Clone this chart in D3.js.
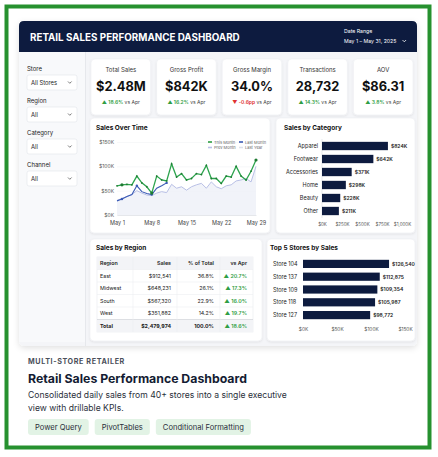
<!DOCTYPE html>
<html>
<head>
<meta charset="utf-8">
<script src="https://cdn.jsdelivr.net/npm/d3@7"></script>
<style>
  html, body { margin: 0; padding: 0; background: #fff; }
  svg { display: block; font-family: Inter, "Open Sans", sans-serif; }
</style>
</head>
<body>
<div id="chart"></div>
<script>
// ---- data ----
var filterLabels = ["Store", "Region", "Category", "Channel"];
var filterValues = ["All Stores", "All", "All", "All"];

var kpiLabels = ["Total Sales", "Gross Profit", "Gross Margin", "Transactions", "AOV"];
var kpiValues = ["$2.48M", "$842K", "34.0%", "28,732", "$86.31"];
var kpiDeltas = ["18.6%", "16.2%", "-0.6pp", "14.3%", "3.8%"];
var kpiUp = [true, true, false, true, true];

var days = d3.range(1, 30);
var thisMonth = [60, 62, 63, 62, 80, 66, 58, 45, 80, 72, 70, 105, 78, 85, 72, 75, 85, 83, 102, 75, 75, 65, 80, 78, 100, 80, 72, 90, 113];
var lastMonth = [29, 33, 38, 42, 60, 48, 44, 42, 55, 60, 66];
var prevMonth = [30, 34, 38, 42, 50, 45, 41, 40, 45, 48, 46, 63, 55, 58, 51, 58, 62, 65, 55, 68, 58, 54, 60, 62, 70, 72, 75, 68, 100];
var lineTicks = [0, 50, 100, 150];
var dayTicks = [1, 8, 15, 22, 29];
var legendNames = ["This Month", "Last Month", "Prev Month", "Last Year"];

var categories = ["Apparel", "Footwear", "Accessories", "Home", "Beauty", "Other"];
var categorySales = [824, 642, 371, 298, 228, 211];
var categoryTicks = [0, 250, 500, 750, 1000];

var regionHead = ["Region", "Sales", "% of Total", "vs Apr"];
var regions = ["East", "Midwest", "South", "West", "Total"];
var regionSales = [912541, 648231, 567320, 351882, 2479974];
var regionShare = [36.8, 26.1, 22.9, 14.2, 100.0];
var regionVsApr = [20.7, 17.3, 16.0, 19.7, 18.6];

var stores = ["Store 104", "Store 137", "Store 109", "Store 118", "Store 127"];
var storeSales = [126540, 112875, 109354, 105987, 98772];
var storeTicks = [0, 50000, 100000, 150000];

var tags = ["Power Query", "PivotTables", "Conditional Formatting"];

// ---- colours ----
var navy = "#0d1b3f", green = "#2f9e44", red = "#e03131", blue = "#3b5bb5", lav = "#b9c0e6";

var W = 438, H = 457;
var svg = d3.select("#chart").append("svg").attr("width", W).attr("height", H);

var defs = svg.append("defs");
var sh = defs.append("filter").attr("id", "sh").attr("x", "-10%").attr("y", "-10%").attr("width", "120%").attr("height", "130%");
sh.append("feDropShadow").attr("dx", 0).attr("dy", 1).attr("stdDeviation", 1.2).attr("flood-color", "#000").attr("flood-opacity", 0.08);
var sh2 = defs.append("filter").attr("id", "sh2").attr("x", "-5%").attr("y", "-5%").attr("width", "110%").attr("height", "115%");
sh2.append("feDropShadow").attr("dx", 0).attr("dy", 2).attr("stdDeviation", 3).attr("flood-color", "#000").attr("flood-opacity", 0.12);

// outer green frame
svg.append("rect").attr("x", 6.5).attr("y", 6.5).attr("width", 423).attr("height", 441)
  .attr("fill", "#fff").attr("stroke", "#26912f").attr("stroke-width", 4);

// dashboard panel
svg.append("rect").attr("x", 19).attr("y", 21).attr("width", 398).attr("height", 325).attr("rx", 5)
  .attr("fill", "#f4f5f8").attr("filter", "url(#sh2)");
svg.append("rect").attr("x", 19).attr("y", 52).attr("width", 66).attr("height", 290)
  .attr("fill", "#f8f9fb");
svg.append("line").attr("x1", 85.5).attr("x2", 85.5).attr("y1", 52).attr("y2", 346).attr("stroke", "#e6e8ec");

// header
svg.append("path").attr("d", "M19,52 V26 Q19,21 24,21 H412 Q417,21 417,26 V52 Z").attr("fill", navy);
svg.append("text").attr("x", 30).attr("y", 40.5).attr("fill", "#fff").attr("font-size", 9.8).attr("font-weight", 700)
  .text("RETAIL SALES PERFORMANCE DASHBOARD");
svg.append("text").attr("x", 344).attr("y", 33).attr("fill", "#fff").attr("font-size", 5.2).text("Date Range");
svg.append("text").attr("x", 344).attr("y", 43).attr("fill", "#fff").attr("font-size", 5.2).text("May 1 \u2013 May 31, 2025");
svg.append("path").attr("d", "M402.5,40 l1.8,1.8 l1.8,-1.8").attr("fill", "none").attr("stroke", "#fff").attr("stroke-width", 0.8);

// sidebar filters
var filt = svg.selectAll("g.filter").data(filterLabels).enter().append("g")
  .attr("transform", function(d, i) { return "translate(27," + (66 + i * 32) + ")"; });
filt.append("text").attr("y", 5).attr("font-size", 6).attr("fill", "#222").text(function(d) { return d; });
filt.append("rect").attr("y", 9).attr("width", 50).attr("height", 15).attr("rx", 2)
  .attr("fill", "#fff").attr("stroke", "#e1e4ea").attr("stroke-width", 0.6);
filt.append("text").attr("x", 4).attr("y", 19).attr("font-size", 5.8).attr("fill", "#222")
  .text(function(d, i) { return filterValues[i]; });
filt.append("path").attr("d", "M41,15.5 l1.8,1.8 l1.8,-1.8").attr("fill", "none").attr("stroke", "#444").attr("stroke-width", 0.7);

function card(x, y, w, h) {
  svg.append("rect").attr("x", x).attr("y", y).attr("width", w).attr("height", h).attr("rx", 4)
    .attr("fill", "#fff").attr("stroke", "#eceef2").attr("stroke-width", 0.6).attr("filter", "url(#sh)");
}

// KPI cards
var kx = d3.scaleBand().domain(kpiLabels).range([91, 413]).paddingInner(0.09);
kpiLabels.forEach(function(lab, i) {
  var x = kx(lab), w = kx.bandwidth(), cx = x + w / 2;
  card(x, 59, w, 56);
  svg.append("text").attr("x", cx).attr("y", 72).attr("text-anchor", "middle").attr("font-size", 6).attr("fill", "#333").text(lab);
  svg.append("text").attr("x", cx).attr("y", 90.5).attr("text-anchor", "middle").attr("font-size", 12.8).attr("font-weight", 700)
    .attr("fill", "#111").text(kpiValues[i]);
  var t = svg.append("text").attr("x", cx).attr("y", 103.5).attr("text-anchor", "middle").attr("font-size", 5);
  t.append("tspan").attr("fill", kpiUp[i] ? green : red).attr("font-weight", 600)
    .text((kpiUp[i] ? "\u25B2 " : "\u25BC ") + kpiDeltas[i]);
  t.append("tspan").attr("fill", "#444").text(" vs Apr");
});

// ---- Sales Over Time ----
card(90, 118, 180, 115);
svg.append("text").attr("x", 96).attr("y", 130).attr("font-size", 6.5).attr("font-weight", 700).attr("fill", "#111").text("Sales Over Time");

var lx = d3.scaleLinear().domain([1, 29]).range([117, 256]);
var ly = d3.scaleLinear().domain([0, 150]).range([215, 142]);

var yAx = svg.append("g").attr("transform", "translate(117,0)")
  .call(d3.axisLeft(ly).tickValues(lineTicks).tickSize(-139).tickPadding(3).tickFormat(function(d) { return "$" + d + "K"; }));
yAx.select(".domain").remove();
yAx.selectAll("line").attr("stroke", "#eef0f3").attr("stroke-width", 0.5);
yAx.selectAll("text").attr("font-size", 5).attr("fill", "#555").attr("font-family", "Inter, sans-serif");

var xAx = svg.append("g").attr("transform", "translate(0,215)")
  .call(d3.axisBottom(lx).tickValues(dayTicks).tickSize(0).tickPadding(6).tickFormat(function(d) { return "May " + d; }));
xAx.select(".domain").attr("stroke", "#d8dbe0").attr("stroke-width", 0.6);
xAx.selectAll("text").attr("font-size", 5.5).attr("fill", "#444").attr("font-family", "Inter, sans-serif");

var area = d3.area().x(function(d, i) { return lx(days[i]); }).y0(ly(0)).y1(function(d) { return ly(d); });
var line = d3.line().x(function(d, i) { return lx(days[i]); }).y(function(d) { return ly(d); });

svg.append("path").datum(prevMonth).attr("d", area).attr("fill", "#eef0f8").attr("opacity", 0.8);
svg.append("path").datum(prevMonth).attr("d", line).attr("fill", "none").attr("stroke", lav).attr("stroke-width", 1);
svg.append("path").datum(lastMonth).attr("d", line).attr("fill", "none").attr("stroke", blue).attr("stroke-width", 1.1);
svg.selectAll("circle.lm").data(lastMonth).enter().append("circle").attr("class", "lm")
  .attr("cx", function(d, i) { return lx(days[i]); }).attr("cy", function(d) { return ly(d); })
  .attr("r", function(d, i) { return i % 3 === 1 ? 1.2 : 0; }).attr("fill", blue);
svg.append("path").datum(thisMonth).attr("d", line).attr("fill", "none").attr("stroke", "#2da44e").attr("stroke-width", 1.3);
svg.selectAll("circle.tm").data(thisMonth).enter().append("circle").attr("class", "tm")
  .attr("cx", function(d, i) { return lx(days[i]); }).attr("cy", function(d) { return ly(d); })
  .attr("r", function(d, i) { return (i === 1 || i === 7 || i === 28) ? 1.6 : 0.9; }).attr("fill", "#1f7a32");

var legColors = [green, blue, lav, "#dde1ea"];
var leg = svg.selectAll("g.leg").data(legendNames).enter().append("g")
  .attr("transform", function(d, i) { return "translate(" + (208 + (i % 2) * 31) + "," + (142 + Math.floor(i / 2) * 5.5) + ")"; });
leg.append("rect").attr("x", 0).attr("y", -0.8).attr("width", 4).attr("height", 1.6).attr("fill", function(d, i) { return legColors[i]; });
leg.append("text").attr("x", 6).attr("y", 1.5).attr("font-size", 4).attr("fill", "#666").text(function(d) { return d; });

// ---- Sales by Category ----
card(276, 118, 139, 115);
svg.append("text").attr("x", 284).attr("y", 130).attr("font-size", 6.5).attr("font-weight", 700).attr("fill", "#111").text("Sales by Category");

var cx = d3.scaleLinear().domain([0, 1000]).range([322, 402]);
var cy = d3.scaleBand().domain(categories).range([139.5, 217.5]).paddingInner(0.36).paddingOuter(0.18);
var cAx = svg.append("g").attr("transform", "translate(0,218)")
  .call(d3.axisBottom(cx).tickValues(categoryTicks).tickSize(0).tickPadding(5).tickFormat(function(d) { return "$" + d3.format(",")(d) + "K"; }));
cAx.select(".domain").remove();
cAx.selectAll("text").attr("font-size", 4.5).attr("fill", "#555").attr("font-family", "Inter, sans-serif");
svg.append("line").attr("x1", 322).attr("x2", 322).attr("y1", 139).attr("y2", 218).attr("stroke", "#d8dbe0").attr("stroke-width", 0.6);

svg.selectAll("rect.cat").data(categorySales).enter().append("rect")
  .attr("x", cx(0)).attr("y", function(d, i) { return cy(categories[i]); })
  .attr("width", function(d) { return cx(d) - cx(0); }).attr("height", cy.bandwidth()).attr("fill", navy);
svg.selectAll("text.catv").data(categorySales).enter().append("text")
  .attr("x", function(d) { return cx(d) + 3; }).attr("y", function(d, i) { return cy(categories[i]) + cy.bandwidth() / 2 + 1.8; })
  .attr("font-size", 5).attr("font-weight", 600).attr("fill", "#222").text(function(d) { return "$" + d + "K"; });
svg.selectAll("text.catl").data(categories).enter().append("text")
  .attr("x", 318).attr("y", function(d) { return cy(d) + cy.bandwidth() / 2 + 2; }).attr("text-anchor", "end")
  .attr("font-size", 5.5).attr("fill", "#222").text(function(d) { return d; });

// ---- Sales by Region table ----
card(90, 239, 172, 102);
svg.append("text").attr("x", 96).attr("y", 250).attr("font-size", 6.5).attr("font-weight", 700).attr("fill", "#111").text("Sales by Region");

var colEdges = [97, 133, 177, 220, 253];
var rowY = d3.scaleBand().domain(["head"].concat(regions)).range([257, 332]);
svg.append("rect").attr("x", 97).attr("y", 257).attr("width", 156).attr("height", 75).attr("fill", "#fff")
  .attr("stroke", "#e7e9ee").attr("stroke-width", 0.6);
svg.append("rect").attr("x", 97).attr("y", rowY("head")).attr("width", 156).attr("height", rowY.bandwidth()).attr("fill", "#f3f4f7");
svg.append("rect").attr("x", 97).attr("y", rowY("Total")).attr("width", 156).attr("height", rowY.bandwidth()).attr("fill", "#f3f4f7");
regions.forEach(function(r) {
  svg.append("line").attr("x1", 97).attr("x2", 253).attr("y1", rowY(r)).attr("y2", rowY(r))
    .attr("stroke", r === "Total" ? "#c9ccd3" : "#eceef2").attr("stroke-width", 0.6);
});
colEdges.slice(1, 4).forEach(function(x) {
  svg.append("line").attr("x1", x).attr("x2", x).attr("y1", 257).attr("y2", 332).attr("stroke", "#eceef2").attr("stroke-width", 0.6);
});
var colX = [100, 171, 214, 247];
var colAnchor = ["start", "end", "end", "end"];
regionHead.forEach(function(h, j) {
  svg.append("text").attr("x", colX[j]).attr("y", rowY("head") + rowY.bandwidth() / 2 + 2)
    .attr("text-anchor", colAnchor[j]).attr("font-size", 5.3).attr("font-weight", 600).attr("fill", "#222").text(h);
});
regions.forEach(function(r, i) {
  var yy = rowY(r) + rowY.bandwidth() / 2 + 2, bold = r === "Total" ? 700 : 400;
  svg.append("text").attr("x", colX[0]).attr("y", yy).attr("font-size", 5.3).attr("font-weight", bold).attr("fill", "#222").text(r);
  svg.append("text").attr("x", colX[1]).attr("y", yy).attr("text-anchor", "end").attr("font-size", 5.3).attr("font-weight", bold)
    .attr("fill", "#222").text("$" + d3.format(",")(regionSales[i]));
  svg.append("text").attr("x", colX[2]).attr("y", yy).attr("text-anchor", "end").attr("font-size", 5.3).attr("font-weight", bold)
    .attr("fill", "#222").text(regionShare[i].toFixed(1) + "%");
  svg.append("text").attr("x", colX[3]).attr("y", yy).attr("text-anchor", "end").attr("font-size", 5.3).attr("font-weight", 600)
    .attr("fill", green).text("\u25B2 " + regionVsApr[i].toFixed(1) + "%");
});

// ---- Top 5 Stores ----
card(267, 239, 148, 102);
svg.append("text").attr("x", 270).attr("y", 250).attr("font-size", 6.5).attr("font-weight", 700).attr("fill", "#111").text("Top 5 Stores by Sales");

var sx = d3.scaleLinear().domain([0, 150000]).range([303, 405]);
var sy = d3.scaleBand().domain(stores).range([257.5, 321.5]).paddingInner(0.36).paddingOuter(0.18);
var sAx = svg.append("g").attr("transform", "translate(0,323)")
  .call(d3.axisBottom(sx).tickValues(storeTicks).tickSize(0).tickPadding(5).tickFormat(function(d) { return "$" + (d / 1000) + "K"; }));
sAx.select(".domain").remove();
sAx.selectAll("text").attr("font-size", 4.8).attr("fill", "#555").attr("font-family", "Inter, sans-serif");
svg.selectAll("rect.st").data(storeSales).enter().append("rect")
  .attr("x", sx(0)).attr("y", function(d, i) { return sy(stores[i]); })
  .attr("width", function(d) { return sx(d) - sx(0); }).attr("height", sy.bandwidth()).attr("fill", navy);
svg.selectAll("text.stv").data(storeSales).enter().append("text")
  .attr("x", function(d) { return sx(d) + 3; }).attr("y", function(d, i) { return sy(stores[i]) + sy.bandwidth() / 2 + 1.8; })
  .attr("font-size", 5).attr("font-weight", 600).attr("fill", "#222").text(function(d) { return "$" + d3.format(",")(d); });
svg.selectAll("text.stl").data(stores).enter().append("text")
  .attr("x", 273).attr("y", function(d) { return sy(d) + sy.bandwidth() / 2 + 2; })
  .attr("font-size", 5.5).attr("fill", "#222").text(function(d) { return d; });

// ---- caption ----
svg.append("text").attr("x", 28).attr("y", 364).attr("font-size", 7.2).attr("font-weight", 700).attr("letter-spacing", 0.6)
  .attr("fill", "#4a4f5a").text("MULTI-STORE RETAILER");
svg.append("text").attr("x", 28).attr("y", 383).attr("font-size", 12.3).attr("font-weight", 700).attr("fill", "#141c33")
  .text("Retail Sales Performance Dashboard");
svg.append("text").attr("x", 28).attr("y", 398).attr("font-size", 8.6).attr("fill", "#2a2f3a")
  .text("Consolidated daily sales from 40+ stores into a single executive");
svg.append("text").attr("x", 28).attr("y", 411).attr("font-size", 8.6).attr("fill", "#2a2f3a")
  .text("view with drillable KPIs.");

var tagX = 28;
tags.forEach(function(t) {
  var g = svg.append("g");
  var txt = g.append("text").attr("x", tagX + 7).attr("y", 430).attr("font-size", 7.6).attr("fill", "#2a2f3a").text(t);
  var w = txt.node().getComputedTextLength() + 14;
  g.insert("rect", "text").attr("x", tagX).attr("y", 419).attr("width", w).attr("height", 16).attr("rx", 3).attr("fill", "#e2f3e5");
  tagX += w + 6;
});
</script>
</body>
</html>
